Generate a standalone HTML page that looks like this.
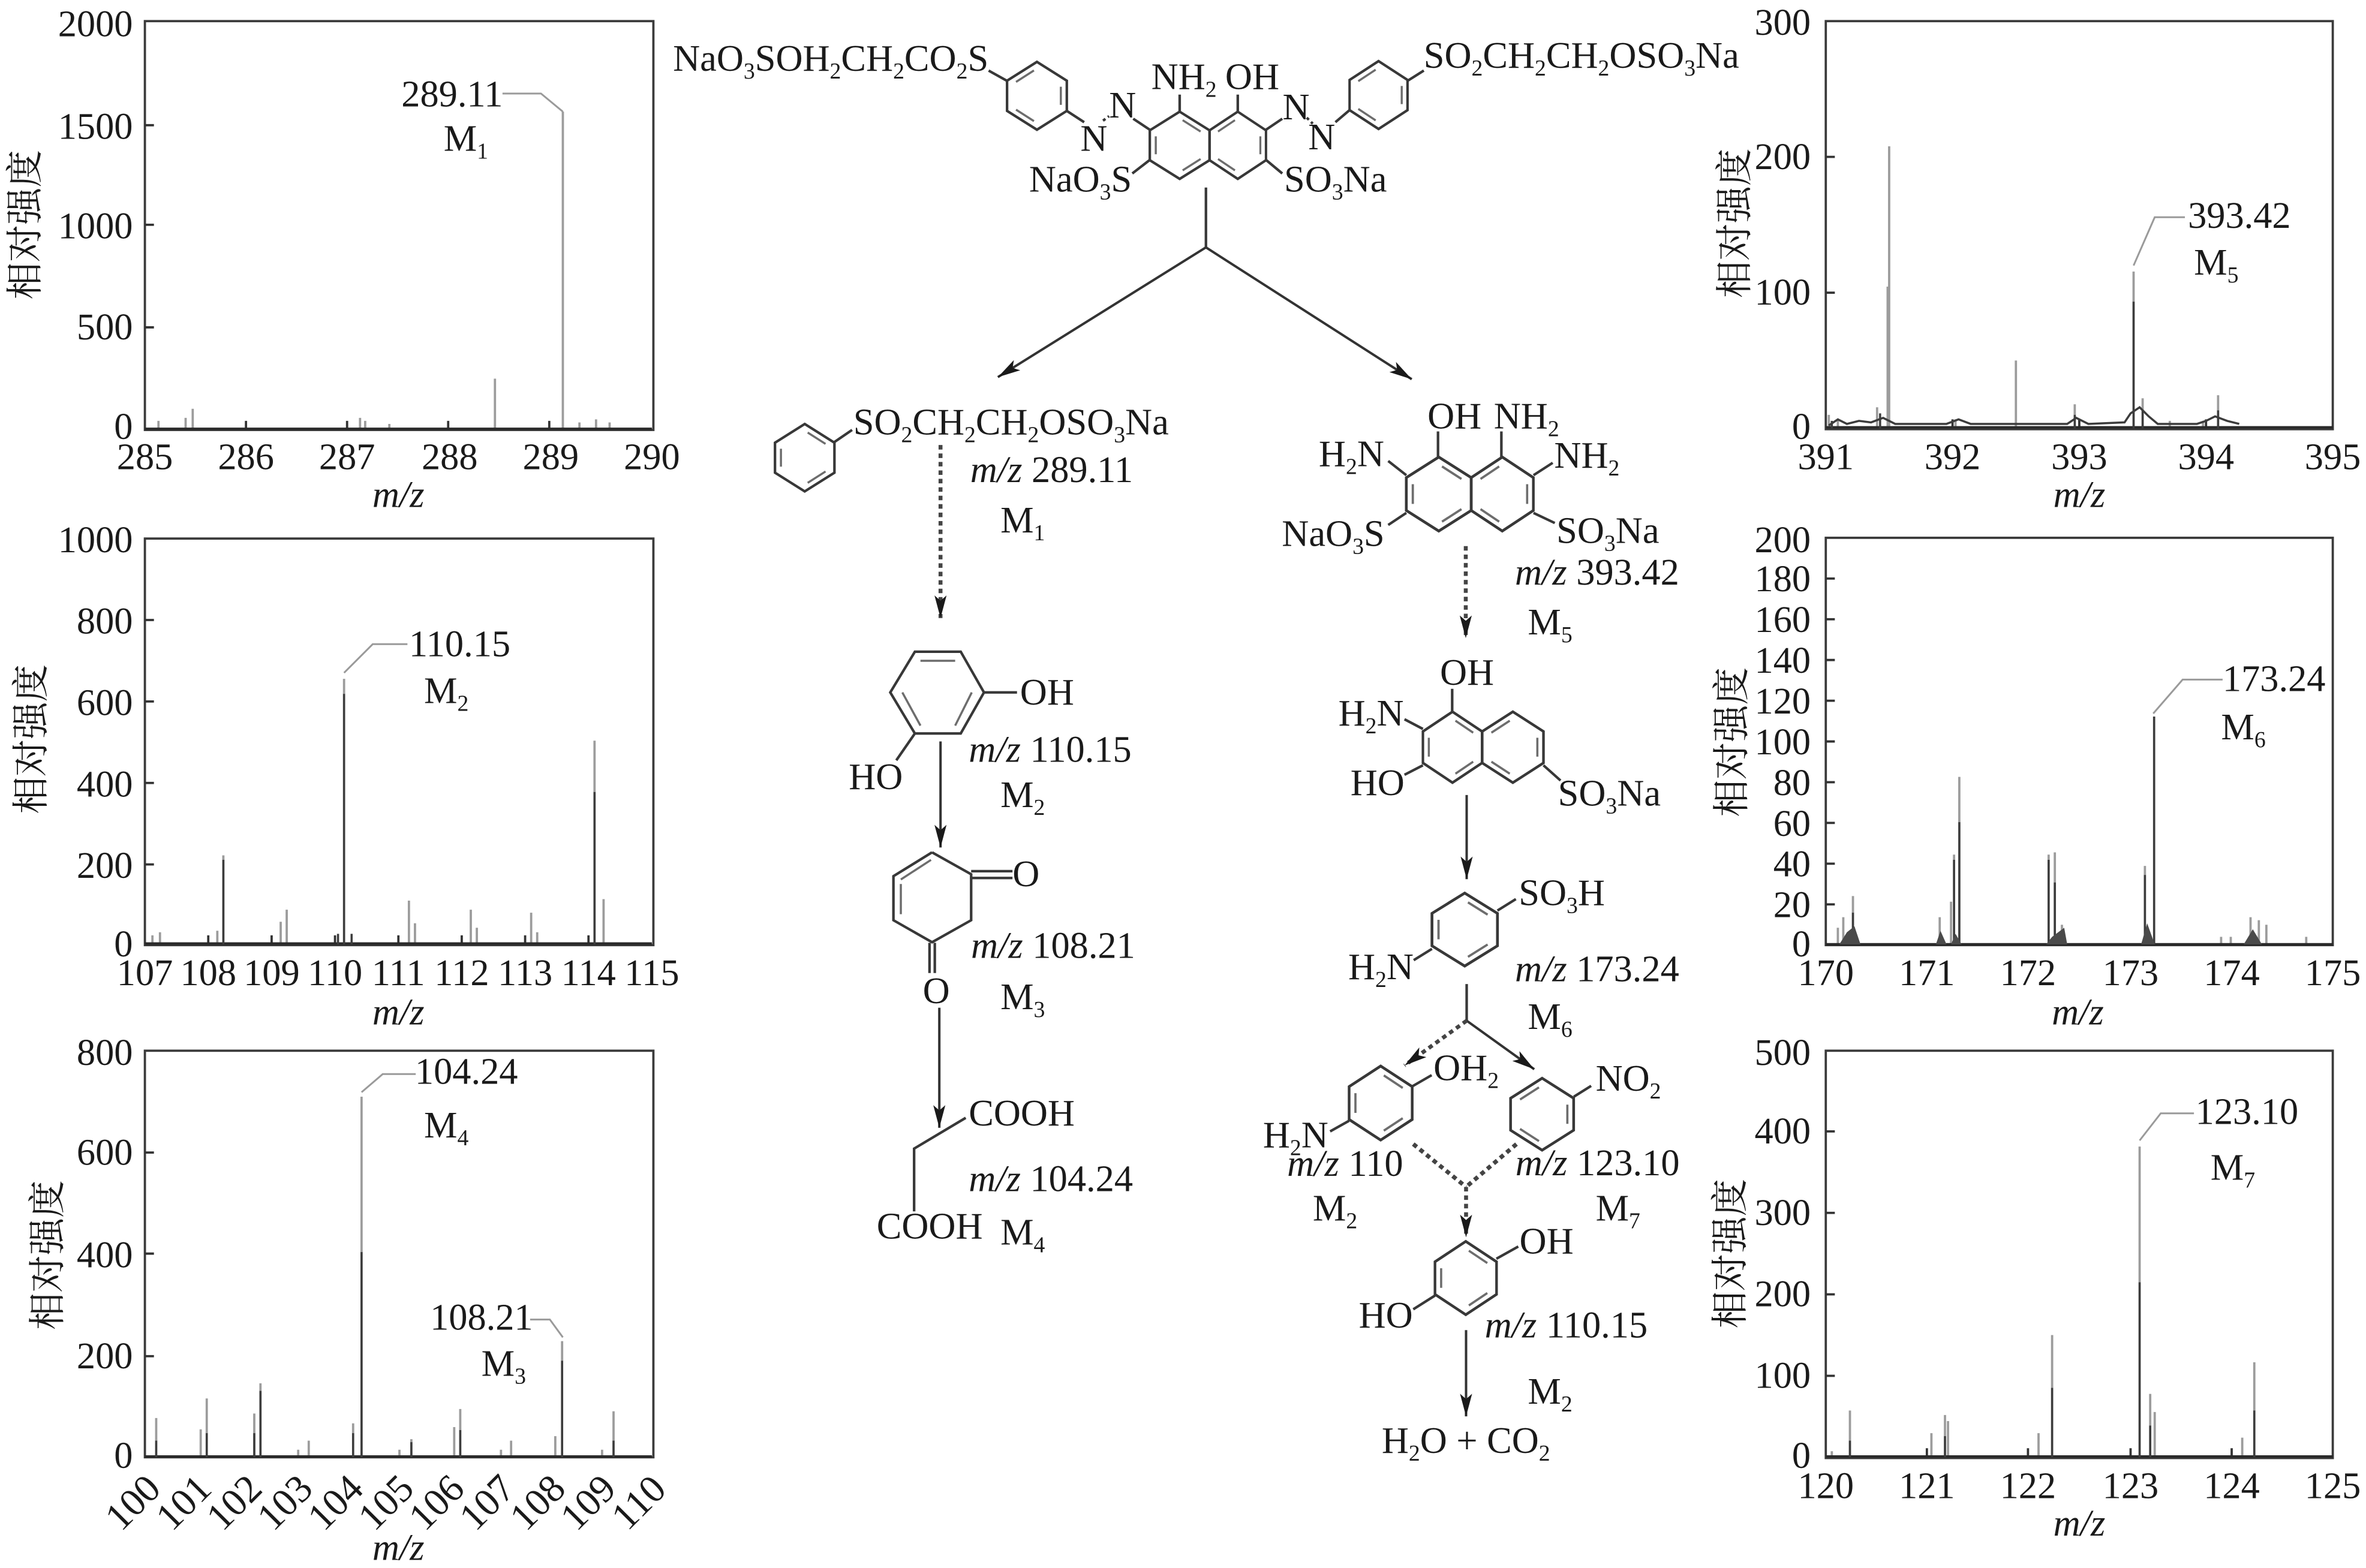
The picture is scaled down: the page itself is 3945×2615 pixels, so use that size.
<!DOCTYPE html>
<html><head><meta charset="utf-8"><style>
html,body{margin:0;padding:0;background:#fff}
svg{display:block}
text{font-family:"Liberation Serif","Noto Serif CJK SC",serif;font-size:24.8px;fill:#1a1a1a}
.s{font-size:15px;baseline-shift:-5px}
.i{font-style:italic}
.e{text-anchor:end}.m{text-anchor:middle}
.box{fill:none;stroke:#3a3a3a;stroke-width:1.5}
.tk{fill:none;stroke:#333;stroke-width:1.5}
.pk{fill:none;stroke:#9c9c9c;stroke-width:1.5}
.pd{fill:none;stroke:#3c3c3c;stroke-width:1.4}
.bl{fill:none;stroke:#2a2a2a;stroke-width:1.7}
.cl{fill:#4a4a4a;stroke:none}
.ld{fill:none;stroke:#9a9a9a;stroke-width:1.2}
.b{fill:none;stroke:#383838;stroke-width:1.7}
.d2{fill:none;stroke:#6d6d6d;stroke-width:1.4}
.a{fill:none;stroke:#333;stroke-width:1.6;marker-end:url(#ah)}
.a2{fill:none;stroke:#444;stroke-width:2.8;stroke-dasharray:3 2.6;}
.a3{fill:none;stroke:#444;stroke-width:2.6;stroke-dasharray:3 2.6;marker-end:url(#ah)}
</style></head><body>
<svg xmlns="http://www.w3.org/2000/svg" width="3945" height="2615" viewBox="0 0 1568 1039.4">
<defs>
<marker id="ah" markerUnits="userSpaceOnUse" markerWidth="18" markerHeight="10" refX="15" refY="4.5" orient="auto"><path d="M15,4.5 L0,0.5 L3.5,4.5 L0,8.5 Z" fill="#1a1a1a"/></marker>
<g id="ra"><polygon class="b" points="0,-22.5 20,-10 20,10 0,22.5 -20,10 -20,-10"/><path class="d2" d="M2,-16.8 L14,-9.2 M14,9.2 L2,16.8 M-16,6 L-16,-6"/></g>
<g id="rb"><polygon class="b" points="0,-22.5 20,-10 20,10 0,22.5 -20,10 -20,-10"/><path class="d2" d="M16,-6 L16,6 M-2,16.8 L-14,9.2 M-14,-9.2 L-2,-16.8"/></g>
</defs>
<rect width="1568" height="1039.4" fill="#fff"/>

<!-- Panel 1 -->
<rect class="box" x="96" y="14" width="337" height="271"/>
<path class="tk" d="M96 83H102M96 149H102M96 217H102M163 285V279M230 285V279M297 285V279M364 285V279"/>
<path class="pk" d="M373 285V74M328 285V251M127.7 285V271M123 285V277M105 285V279M238.6 285V277M242 285V279M258 285V281M384 285V280M395 285V278M404 285V280"/>
<path class="bl" d="M96 284.3H432"/>
<polyline class="ld" points="333,62 358.5,62 373,74"/>
<g class="e"><text x="88" y="24">2000</text><text x="88" y="92">1500</text><text x="88" y="158">1000</text><text x="88" y="225">500</text><text x="88" y="291">0</text></g>
<g class="m"><text x="96" y="311">285</text><text x="163" y="311">286</text><text x="230" y="311">287</text><text x="298" y="311">288</text><text x="365" y="311">289</text><text x="432" y="311">290</text></g>
<text class="m" x="264" y="336"><tspan class="i">m/z</tspan></text>
<text class="m" transform="translate(25 149) rotate(-90)">相对强度</text>
<text x="266" y="70.5">289.11</text><text x="294" y="100">M<tspan class="s">1</tspan></text>

<!-- Panel 2 -->
<rect class="box" x="96" y="357" width="337" height="269.5"/>
<path class="tk" d="M96 411H102M96 465H102M96 519H102M96 573H102M138 626V620M180 626V620M222 626V620M264 626V620M306 626V620M348 626V620M390 626V620"/>
<path class="pk" d="M228 626V450M148 626V567M190 626V603M271 626V597M275 626V612M312 626V603M316 626V615M352 626V605M356 626V618M394 626V491M400 626V596M144 626V617M186 626V611M106 626V618M101 626V620"/>
<path class="bl" d="M96 625.5H432"/>
<path class="pd" d="M228 626V460M394 626V525M148 626V570M233 626V619M224 626V619"/>
<polyline class="ld" points="270,427 247,427 228,446"/>
<g class="e"><text x="88" y="366">1000</text><text x="88" y="420">800</text><text x="88" y="474">600</text><text x="88" y="528">400</text><text x="88" y="582">200</text><text x="88" y="634">0</text></g>
<g class="m"><text x="96" y="653">107</text><text x="138" y="653">108</text><text x="180" y="653">109</text><text x="222" y="653">110</text><text x="264" y="653">111</text><text x="306" y="653">112</text><text x="348" y="653">113</text><text x="390" y="653">114</text><text x="432" y="653">115</text></g>
<text class="m" x="264" y="679"><tspan class="i">m/z</tspan></text>
<text class="m" transform="translate(29 490) rotate(-90)">相对强度</text>
<text x="271" y="435">110.15</text><text x="281" y="466">M<tspan class="s">2</tspan></text>

<!-- Panel 3 -->
<rect class="box" x="96" y="696.5" width="337" height="269.5"/>
<path class="tk" d="M96 764H102M96 831H102M96 899H102"/>
<path class="pk" d="M103.5 966V940M133 966V947.5M137 966V927M168.5 966V937M172.6 966V917M197.6 966V961M204.6 966V955M234 966V943.5M239.6 966V727M264.7 966V961M272.6 966V954M301 966V946M305 966V934M332 966V961M338.7 966V955M368 966V952M372.5 966V889M399 966V961M406.6 966V935.5"/>
<path class="bl" d="M96 965.5H432"/>
<path class="pd" d="M239.6 966V830M372.5 966V902M172.6 966V922M168.5 966V950M137 966V950M103.5 966V955M305 966V948M406.6 966V955M234 966V950M272.6 966V956"/>
<polyline class="ld" points="275.5,712 253.6,712 239.6,724"/><polyline class="ld" points="351.3,874.7 364.4,874.7 373,886.5"/>
<g class="e"><text x="88" y="706">800</text><text x="88" y="772">600</text><text x="88" y="840">400</text><text x="88" y="907">200</text><text x="88" y="973">0</text></g>
<g class="m" style="font-size:26px">
<text style="font-size:26px" transform="translate(94 1002) rotate(-45)">100</text>
<text style="font-size:26px" transform="translate(127.7 1002) rotate(-45)">101</text>
<text style="font-size:26px" transform="translate(161.2 1002) rotate(-45)">102</text>
<text style="font-size:26px" transform="translate(194.8 1002) rotate(-45)">103</text>
<text style="font-size:26px" transform="translate(228.3 1002) rotate(-45)">104</text>
<text style="font-size:26px" transform="translate(261.8 1002) rotate(-45)">105</text>
<text style="font-size:26px" transform="translate(295.3 1002) rotate(-45)">106</text>
<text style="font-size:26px" transform="translate(328.8 1002) rotate(-45)">107</text>
<text style="font-size:26px" transform="translate(362.3 1002) rotate(-45)">108</text>
<text style="font-size:26px" transform="translate(395.8 1002) rotate(-45)">109</text>
<text style="font-size:26px" transform="translate(429.3 1002) rotate(-45)">110</text>
</g>
<text class="m" x="264" y="1034"><tspan class="i">m/z</tspan></text>
<text class="m" transform="translate(40 832) rotate(-90)">相对强度</text>
<text x="275" y="718.5">104.24</text><text x="281" y="754">M<tspan class="s">4</tspan></text>
<text x="285" y="881.5">108.21</text><text x="319" y="912">M<tspan class="s">3</tspan></text>

<!-- Panel 5 -->
<rect class="box" x="1210" y="14" width="336" height="270.5"/>
<path class="tk" d="M1210 104H1216M1210 194H1216M1294 284V278M1378 284V278M1462 284V278"/>
<path class="pk" d="M1252 284V97M1251 284V190M1336 284V239M1414 284V180M1375 284V268M1420 284V264M1470 284V262M1244 284V270M1212 284V275M1218 284V278M1296 284V278M1438 284V279M1460 284V279"/>
<path class="bl" d="M1210 283.3H1546"/>
<path class="pd" d="M1414 284V200M1375 284V275M1470 284V272M1246 284V274M1214 284V279M1420 284V272"/>
<polyline class="pd" points="1212,282 1218,278 1224,281 1232,279 1240,280 1248,277 1256,281 1290,281 1298,278 1306,281 1370,281 1376,277 1384,281 1408,280 1412,274 1418,270 1424,276 1430,281 1456,281 1462,279 1468,276 1476,279 1484,281"/>
<polyline class="ld" points="1448,144 1428,144 1414,176"/>
<g class="e"><text x="1200" y="23">300</text><text x="1200" y="112">200</text><text x="1200" y="202">100</text><text x="1200" y="291">0</text></g>
<g class="m"><text x="1210" y="311">391</text><text x="1294" y="311">392</text><text x="1378" y="311">393</text><text x="1462" y="311">394</text><text x="1546" y="311">395</text></g>
<text class="m" x="1378" y="336"><tspan class="i">m/z</tspan></text>
<text class="m" transform="translate(1158 148) rotate(-90)">相对强度</text>
<text x="1450" y="151">393.42</text><text x="1454" y="182">M<tspan class="s">5</tspan></text>

<!-- Panel 6 -->
<rect class="box" x="1210" y="356.5" width="336" height="270"/>
<path class="tk" d="M1210 383.5H1216M1210 410.5H1216M1210 437.5H1216M1210 464.5H1216M1210 491.5H1216M1210 518.5H1216M1210 545.5H1216M1210 572.5H1216M1210 599.5H1216"/>
<path class="pk" d="M1228 626V594M1221.6 626V608M1218 626V615M1285.5 626V608M1293 626V597.7M1295 626V566.5M1298.5 626V515M1357.7 626V566.5M1361.8 626V565M1366.5 626V613M1421.5 626V574M1427.6 626V475M1491.5 626V608M1497 626V610M1502 626V613M1472 626V621M1478.4 626V621M1528.4 626V621"/>
<path class="bl" d="M1210 626H1546"/>
<path class="pd" d="M1298.5 626V545M1295 626V570M1357.7 626V570M1361.8 626V585M1421.5 626V580M1427.6 626V475M1228 626V605"/>
<path class="cl" d="M1219 626L1224 618L1229 614L1233 626ZM1283 626L1286 617L1290 626ZM1293 626L1296 619L1300 626ZM1356 626L1360 621L1368 615L1370 626ZM1419 626L1423 612L1428 626ZM1487 626L1493 616L1499 626Z"/>
<polyline class="ld" points="1473,450.5 1446.5,450.5 1427,473"/>
<g class="e"><text x="1200" y="366">200</text><text x="1200" y="392">180</text><text x="1200" y="419">160</text><text x="1200" y="446">140</text><text x="1200" y="473">120</text><text x="1200" y="500">100</text><text x="1200" y="527">80</text><text x="1200" y="554">60</text><text x="1200" y="581">40</text><text x="1200" y="608">20</text><text x="1200" y="634">0</text></g>
<g class="m"><text x="1210" y="653">170</text><text x="1277" y="653">171</text><text x="1344" y="653">172</text><text x="1412" y="653">173</text><text x="1479" y="653">174</text><text x="1546" y="653">175</text></g>
<text class="m" x="1377" y="679"><tspan class="i">m/z</tspan></text>
<text class="m" transform="translate(1156 492) rotate(-90)">相对强度</text>
<text x="1473" y="458">173.24</text><text x="1472" y="490">M<tspan class="s">6</tspan></text>

<!-- Panel 7 -->
<rect class="box" x="1210" y="696.5" width="336" height="270"/>
<path class="tk" d="M1210 750H1216M1210 804H1216M1210 858H1216M1210 912H1216M1277 966V960M1344 966V960M1412 966V960M1479 966V960"/>
<path class="pk" d="M1226 966V935M1280 966V950M1289 966V938M1291 966V942M1351 966V950M1360 966V885M1418 966V760M1425 966V924M1428 966V936M1494 966V903M1486 966V953M1214 966V962"/>
<path class="bl" d="M1210 965.5H1546"/>
<path class="pd" d="M1360 966V920M1418 966V850M1494 966V935M1289 966V952M1425 966V945M1226 966V955"/>
<polyline class="ld" points="1454,738 1432,738 1418,756"/>
<g class="e"><text x="1200" y="706">500</text><text x="1200" y="758">400</text><text x="1200" y="812">300</text><text x="1200" y="866">200</text><text x="1200" y="920">100</text><text x="1200" y="973">0</text></g>
<g class="m"><text x="1210" y="993">120</text><text x="1277" y="993">121</text><text x="1344" y="993">122</text><text x="1412" y="993">123</text><text x="1479" y="993">124</text><text x="1546" y="993">125</text></g>
<text class="m" x="1378" y="1018"><tspan class="i">m/z</tspan></text>
<text class="m" transform="translate(1155 831) rotate(-90)">相对强度</text>
<text x="1455" y="745">123.10</text><text x="1465" y="782">M<tspan class="s">7</tspan></text>

<!-- Parent molecule -->
<use href="#rb" transform="translate(687.2 63.5) scale(.99 1)"/>
<use href="#rb" transform="translate(913.6 63) scale(.96 1)"/>
<use href="#ra" transform="translate(781.8 96.3) scale(.99 .99)"/>
<use href="#rb" transform="translate(820.3 96.3) scale(.935 .99)"/>
<path class="b" d="M655.2 46.8L667.4 53.6M707 73.5L718.5 81M751 78.7L762 86M781.8 62.7V74M820.3 62.7V74M839 86L849.8 78.7M885 81L894.4 73M932.8 53.6L943.6 46.8M762 106L750.4 115M839 106L849.8 115"/>
<path class="b" stroke-dasharray="2 2" d="M731 80L735 77M866 78L870 82"/>
<text x="446" y="47">NaO<tspan class="s">3</tspan>SOH<tspan class="s">2</tspan>CH<tspan class="s">2</tspan>CO<tspan class="s">2</tspan>S</text>
<text x="943.5" y="45">SO<tspan class="s">2</tspan>CH<tspan class="s">2</tspan>CH<tspan class="s">2</tspan>OSO<tspan class="s">3</tspan>Na</text>
<text x="763" y="59">NH<tspan class="s">2</tspan></text><text x="812" y="59">OH</text>
<text x="735" y="78">N</text><text x="716" y="100">N</text>
<text x="850" y="79">N</text><text x="867" y="99">N</text>
<text x="682" y="127">NaO<tspan class="s">3</tspan>S</text><text x="851" y="127">SO<tspan class="s">3</tspan>Na</text>

<!-- Branch arrows -->
<path class="b" d="M799.2 124.3V164"/>
<path class="a" d="M799.2 164L661.3 250"/>
<path class="a" d="M799.2 164L935.6 251.4"/>

<!-- M1 -->
<use href="#ra" transform="translate(533.3 303.4) scale(.985 .993)"/>
<path class="b" d="M553 293L564.7 285"/>
<text x="565.5" y="288">SO<tspan class="s">2</tspan>CH<tspan class="s">2</tspan>CH<tspan class="s">2</tspan>OSO<tspan class="s">3</tspan>Na</text>
<text x="643" y="319.5"><tspan class="i">m/z</tspan> 289.11</text>
<text x="663" y="353">M<tspan class="s">1</tspan></text>
<path class="a3" d="M623.3 295V409.7"/>

<!-- M2 left -->
<polygon class="b" points="606.3,432 636.7,432 652.1,459 636.7,486.2 606.3,486.2 590,459"/>
<path class="d2" d="M610 438H633M598 459L610 481M644 459L633 481"/>
<path class="b" d="M652.1 459H674M606.3 486.2L594 504"/>
<text x="676" y="467">OH</text><text x="562.5" y="523">HO</text>
<text x="642" y="505"><tspan class="i">m/z</tspan> 110.15</text>
<text x="663" y="535">M<tspan class="s">2</tspan></text>
<path class="a" d="M623.3 491.5V561.8"/>

<!-- M3 -->
<polyline class="b" points="617.7,565 643.6,579.5 643.6,610 617.7,624.6 592.1,610 592.1,580.8 617.7,565"/>
<path class="d2" d="M597 583L617 570M597 586V606"/>
<path class="b" d="M643.6 577.5H671M643.6 582H671M616 625V645M619.5 625V645"/>
<text x="671" y="587.5">O</text><text class="m" x="620.5" y="665">O</text>
<text x="643.5" y="635"><tspan class="i">m/z</tspan> 108.21</text>
<text x="663" y="669">M<tspan class="s">3</tspan></text>
<path class="a" d="M622.5 668V747.6"/>

<!-- M4 -->
<polyline class="b" points="640,741 605.8,761.4 605.8,803"/>
<text x="642" y="746">COOH</text><text x="581" y="821">COOH</text>
<text x="642" y="789.5"><tspan class="i">m/z</tspan> 104.24</text>
<text x="663" y="825">M<tspan class="s">4</tspan></text>

<!-- M5 -->
<use href="#ra" transform="translate(953.5 327.5) scale(1.075 1.09)"/>
<use href="#rb" transform="translate(995.6 327.5) scale(1.03 1.09)"/>
<path class="b" d="M953 286V303M995 286V303M920 305.6L932 315M1029 306.8L1016.3 315M932 340L920 348M1016.3 340L1030.4 346.7"/>
<text x="946" y="284">OH</text><text x="990" y="284">NH<tspan class="s">2</tspan></text>
<text x="874" y="309">H<tspan class="s">2</tspan>N</text><text x="1030" y="310">NH<tspan class="s">2</tspan></text>
<text x="849.5" y="362">NaO<tspan class="s">3</tspan>S</text><text x="1031.5" y="360">SO<tspan class="s">3</tspan>Na</text>
<text x="1004" y="387.5"><tspan class="i">m/z</tspan> 393.42</text>
<text x="1012.5" y="420.5">M<tspan class="s">5</tspan></text>
<path class="a3" d="M971.4 362V423"/>

<!-- Naphthol -->
<use href="#ra" transform="translate(962.6 495.3) scale(.98 1.045)"/>
<use href="#rb" transform="translate(1002.6 495.3) scale(1.015 1.045)"/>
<path class="b" d="M962.4 456.6V471.8M943 483.2L930.8 476.8M943 507.3L930.8 513.6M1022.9 507.3L1034.2 517.4"/>
<text x="954.3" y="454">OH</text><text x="887" y="481">H<tspan class="s">2</tspan>N</text><text x="895" y="527">HO</text>
<text x="1032.5" y="534">SO<tspan class="s">3</tspan>Na</text>
<path class="a" d="M972 527V582.8"/>

<!-- M6 -->
<use href="#ra" transform="translate(970.7 616.2) scale(1.085 1.075)"/>
<path class="b" d="M992.4 603.6L1004.6 596M949 629L936.9 636.5"/>
<text x="1006.5" y="600">SO<tspan class="s">3</tspan>H</text><text x="893.5" y="649">H<tspan class="s">2</tspan>N</text>
<text x="1004" y="650.5"><tspan class="i">m/z</tspan> 173.24</text>
<text x="1012.5" y="682">M<tspan class="s">6</tspan></text>
<path class="b" d="M972 652.3V676.6"/>
<path class="a" d="M972 676.6L1016.8 708.8"/>
<path class="a3" d="M972 676.6L930.8 706.3"/>

<!-- Rings A/B -->
<use href="#ra" transform="translate(915 731.2) scale(1.045 1.09)"/>
<use href="#rb" transform="translate(1022 738.6) scale(1.045 1.06)"/>
<path class="b" d="M935.8 720.2L948.8 712.7M894 743L881.5 750M1043 727L1054.5 719.8"/>
<text x="950" y="716">OH<tspan class="s">2</tspan></text>
<text x="1057.5" y="723">NO<tspan class="s">2</tspan></text>
<text x="837" y="760.5">H<tspan class="s">2</tspan>N</text>
<text x="853" y="779.5"><tspan class="i">m/z</tspan> 110</text>
<text x="1004.3" y="779"><tspan class="i">m/z</tspan> 123.10</text>
<text x="870" y="809">M<tspan class="s">2</tspan></text>
<text x="1057.5" y="809">M<tspan class="s">7</tspan></text>
<path class="a2" d="M936.6 758.4L971.6 786.8M1005 758.4L971.6 786.8"/>
<path class="a3" d="M971.6 786.8V820.2"/>

<!-- Hydroquinone -->
<use href="#ra" transform="translate(971.4 847.2) scale(1.02 1.08)"/>
<path class="b" d="M991.7 834.4L1006.2 826.3M951 858.8L936.6 867.9"/>
<text x="1007" y="831">OH</text><text x="900.5" y="880">HO</text>
<text x="984" y="886.5"><tspan class="i">m/z</tspan> 110.15</text>
<text x="1012.5" y="930.5">M<tspan class="s">2</tspan></text>
<path class="a" d="M971.6 881.7V938.9"/>
<text x="915.7" y="963">H<tspan class="s">2</tspan>O + CO<tspan class="s">2</tspan></text>
</svg>
</body></html>
